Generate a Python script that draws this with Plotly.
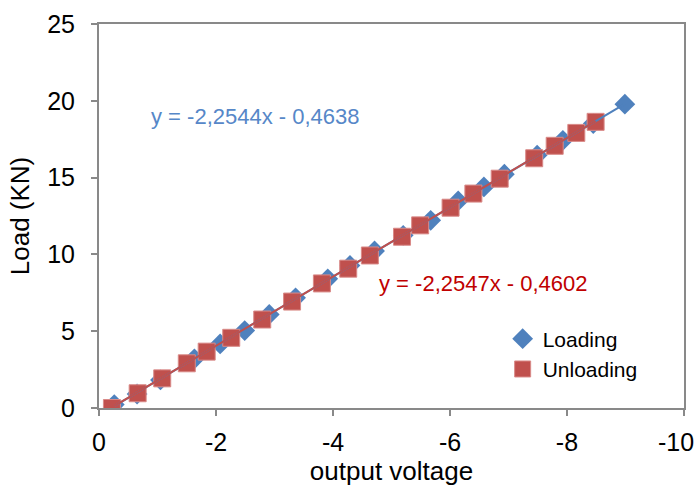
import numpy as np
import plotly.graph_objects as go

# Loading run (blue diamonds)
load_v = [-0.26, -0.65, -1.05, -1.63, -2.07, -2.49, -2.91, -3.36, -3.91, -4.29,
          -4.71, -5.20, -5.67, -6.14, -6.58, -6.93, -7.49, -7.93, -8.45, -8.99]
load_kn = [0.22, 0.91, 1.83, 3.20, 4.17, 5.04, 6.09, 7.17, 8.41, 9.28,
           10.22, 11.24, 12.22, 13.48, 14.39, 15.22, 16.46, 17.43, 18.52, 19.78]

# Unloading run (red squares)
unload_v = [-0.22, -0.66, -1.08, -1.50, -1.84, -2.26, -2.79, -3.30, -3.81, -4.26,
            -4.63, -5.18, -5.49, -6.01, -6.40, -6.85, -7.44, -7.79, -8.16, -8.49]
unload_kn = [0.00, 0.96, 1.93, 2.91, 3.67, 4.57, 5.76, 6.93, 8.11, 9.07,
             9.93, 11.15, 11.89, 13.04, 13.96, 14.93, 16.26, 17.07, 17.91, 18.63]

# Linear trendline coefficients (slope, intercept)
load_fit = (-2.2544, -0.4638)
unload_fit = (-2.2547, -0.4602)

x_ticks = [0, -2, -4, -6, -8, -10]
x_tick_labels = ["0", "-2", "-4", "-6", "-8", "-10"]
y_ticks = [0, 5, 10, 15, 20, 25]
y_tick_labels = ["0", "5", "10", "15", "20", "25"]

BLUE = "#4F81BD"
RED = "#C0504D"
AXIS = "#898989"
FONT = "Liberation Sans, Arial, sans-serif"
TICK_SIZE = 25


def trend(xs, fit):
    xr = np.array([max(xs), min(xs)])
    return xr, fit[0] * xr + fit[1]


def eq_text(fit):
    def f(v):
        return f"{abs(v):.4f}".replace(".", ",")
    s = "-" if fit[0] < 0 else ""
    sign = "-" if fit[1] < 0 else "+"
    return f"y = {s}{f(fit[0])}x {sign} {f(fit[1])}"


fig = go.Figure()

fig.add_trace(go.Scatter(
    x=load_v, y=load_kn, mode="markers", name="Loading",
    marker=dict(symbol="diamond", size=16, color=BLUE, line=dict(width=0)),
))
fig.add_trace(go.Scatter(
    x=unload_v, y=unload_kn, mode="markers", name="Unloading",
    marker=dict(symbol="square", size=17, color=RED,
                line=dict(width=1, color="#D98A88")),
))

tx, ty = trend(load_v, load_fit)
fig.add_trace(go.Scatter(x=tx, y=ty, mode="lines", showlegend=False,
                         line=dict(color=BLUE, width=2), hoverinfo="skip"))
tx, ty = trend(unload_v, unload_fit)
fig.add_trace(go.Scatter(x=tx, y=ty, mode="lines", showlegend=False,
                         line=dict(color=RED, width=2), hoverinfo="skip"))

fig.add_annotation(x=-2.68, y=19.0, text=eq_text(load_fit), showarrow=False,
                   font=dict(family=FONT, size=22, color="#5687C8"))
fig.add_annotation(x=-6.58, y=8.1, text=eq_text(unload_fit), showarrow=False,
                   font=dict(family=FONT, size=22, color="#C00000"))

# The last x tick label sits at the page edge, so it is right-aligned to
# stay inside the page instead of being centred on its tick.
fig.add_annotation(x=x_ticks[-1], xref="x", y=0, yref="paper",
                   text=x_tick_labels[-1], showarrow=False,
                   xanchor="right", yanchor="middle", xshift=12, yshift=-34,
                   font=dict(family=FONT, size=TICK_SIZE, color="black"))

axis_common = dict(
    showgrid=False, zeroline=False, showline=True, linecolor=AXIS, linewidth=2,
    mirror=True, ticks="outside", tickcolor=AXIS, tickwidth=2, ticklen=6,
    tickfont=dict(family=FONT, size=TICK_SIZE, color="black"),
    automargin=False, ticklabeloverflow="allow",
)

fig.update_layout(
    width=699, height=486,
    margin=dict(l=99, r=15, t=24, b=78),
    paper_bgcolor="white", plot_bgcolor="white",
    font=dict(family=FONT, color="black"),
    showlegend=True,
    legend=dict(x=0.69, y=0.233, xanchor="left", yanchor="top",
                bgcolor="rgba(0,0,0,0)", font=dict(family=FONT, size=21),
                itemwidth=30, tracegroupgap=0),
    xaxis=dict(axis_common, range=[0.001, -10.001], tickvals=x_ticks,
               ticktext=x_tick_labels[:-1] + [""], ticklabelstandoff=5,
               title=dict(text="output voltage", standoff=8,
                          font=dict(family=FONT, size=26))),
    yaxis=dict(axis_common, range=[0, 25], tickvals=y_ticks,
               ticktext=y_tick_labels, ticklabelstandoff=11,
               title=dict(text="Load (KN)", standoff=10,
                          font=dict(family=FONT, size=26))),
)

fig.write_html("out.html")
